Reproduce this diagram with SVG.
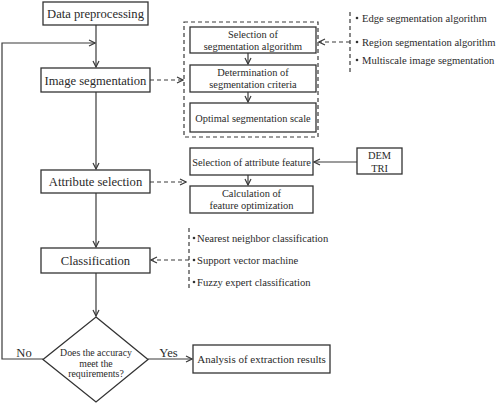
<svg xmlns="http://www.w3.org/2000/svg" width="498" height="404" viewBox="0 0 498 404" font-family="Liberation Serif, Times New Roman, serif">
<defs>
<style>
.box{fill:#fff;stroke:#333;stroke-width:1.3}
.ln{fill:none;stroke:#3a3a3a;stroke-width:1.2}
.dash{fill:none;stroke:#3a3a3a;stroke-width:1.2;stroke-dasharray:4 3}
text{fill:#2a2a2a;font-family:"Liberation Serif","Times New Roman",serif}
.m{font-size:12.6px;text-anchor:middle}
.s{font-size:10.4px;text-anchor:middle}
.b{font-size:10.6px}
.d{font-size:9.8px;text-anchor:middle}
.dot{fill:#333}
</style>
<marker id="ah" viewBox="0 0 8 8" refX="7" refY="4" markerWidth="8" markerHeight="8" markerUnits="userSpaceOnUse" orient="auto">
<path d="M1,1 L7,4 L1,7" fill="none" stroke="#3a3a3a" stroke-width="1.2"/>
</marker>
</defs>
<rect width="498" height="404" fill="#fff"/>
<g id="connectors">
<line class="ln" x1="96" y1="25" x2="96" y2="67" marker-end="url(#ah)"/>
<polyline class="ln" points="43,359 2,359 2,43 95,43" marker-end="url(#ah)"/>
<line class="dash" x1="150" y1="80" x2="183" y2="80" marker-end="url(#ah)"/>
<line class="ln" x1="248" y1="53" x2="248" y2="64" marker-end="url(#ah)"/>
<line class="ln" x1="248" y1="92" x2="248" y2="102" marker-end="url(#ah)"/>
<line class="dash" x1="350" y1="12" x2="350" y2="72"/>
<line class="dash" x1="350" y1="42" x2="319" y2="42" marker-end="url(#ah)"/>
<line class="ln" x1="96" y1="92" x2="96" y2="169" marker-end="url(#ah)"/>
<line class="dash" x1="150" y1="182" x2="186" y2="182" marker-end="url(#ah)"/>
<line class="ln" x1="248" y1="175" x2="248" y2="185" marker-end="url(#ah)"/>
<line class="ln" x1="357" y1="162" x2="314" y2="162" marker-end="url(#ah)"/>
<line class="ln" x1="96" y1="193" x2="96" y2="247" marker-end="url(#ah)"/>
<line class="dash" x1="189" y1="228" x2="189" y2="289"/>
<line class="dash" x1="189" y1="260" x2="151" y2="260" marker-end="url(#ah)"/>
<line class="ln" x1="96" y1="273" x2="96" y2="316" marker-end="url(#ah)"/>
<line class="ln" x1="148" y1="359" x2="192" y2="359" marker-end="url(#ah)"/>
</g>
<g id="data-preprocessing">
<rect class="box" x="43" y="2" width="105" height="23"/>
<text class="m" x="95.5" y="18">Data preprocessing</text>
</g>
<g id="image-segmentation">
<rect class="box" x="41" y="68" width="109" height="24"/>
<text class="m" x="95.5" y="84.5">Image segmentation</text>
</g>
<g id="segmentation-group">
<rect class="dash" x="184" y="22" width="134" height="115"/>
</g>
<g id="selection-seg-algorithm">
<rect class="box" x="190" y="27" width="126" height="26"/>
<text class="s" x="253" y="37.5">Selection of</text>
<text class="s" x="253" y="50">segmentation algorithm</text>
</g>
<g id="determination-criteria">
<rect class="box" x="190" y="65" width="126" height="27"/>
<text class="s" x="253" y="76">Determination of</text>
<text class="s" x="253" y="88">segmentation criteria</text>
</g>
<g id="optimal-scale">
<rect class="box" x="190" y="103" width="126" height="29"/>
<text class="s" x="253" y="121.5">Optimal segmentation scale</text>
</g>
<g id="seg-methods">
<circle class="dot" cx="357" cy="18" r="1.3"/>
<text class="b" x="362" y="21.5">Edge segmentation algorithm</text>
<circle class="dot" cx="357" cy="42" r="1.3"/>
<text class="b" x="362" y="45.5">Region segmentation algorithm</text>
<circle class="dot" cx="357" cy="60" r="1.3"/>
<text class="b" x="362" y="63.5">Multiscale image segmentation</text>
</g>
<g id="attribute-selection">
<rect class="box" x="41" y="170" width="109" height="23"/>
<text class="m" x="95.5" y="186">Attribute selection</text>
</g>
<g id="selection-attribute-feature">
<rect class="box" x="190" y="148" width="123" height="27"/>
<text class="s" x="251.5" y="165.5">Selection of attribute feature</text>
</g>
<g id="calculation-feature">
<rect class="box" x="190" y="186" width="123" height="27"/>
<text class="s" x="251.5" y="197">Calculation of</text>
<text class="s" x="251.5" y="209">feature optimization</text>
</g>
<g id="dem-tri">
<rect class="box" x="357" y="148" width="45" height="26"/>
<text class="s" x="379.5" y="159">DEM</text>
<text class="s" x="379.5" y="171.5">TRI</text>
</g>
<g id="classification">
<rect class="box" x="41" y="248" width="109" height="25"/>
<text class="m" x="95.5" y="265">Classification</text>
</g>
<g id="class-methods">
<circle class="dot" cx="194" cy="238" r="1.3"/>
<text class="b" x="197" y="241.5">Nearest neighbor classification</text>
<circle class="dot" cx="194" cy="260" r="1.3"/>
<text class="b" x="197" y="263.5">Support vector machine</text>
<circle class="dot" cx="194" cy="282" r="1.3"/>
<text class="b" x="197" y="285.5">Fuzzy expert classification</text>
</g>
<g id="accuracy-decision">
<polygon class="box" points="96,317 148,359.5 96,402 43,359.5"/>
<text class="d" x="96" y="356">Does the accuracy</text>
<text class="d" x="96" y="366.5">meet the</text>
<text class="d" x="96" y="377">requirements?</text>
</g>
<g id="analysis-results">
<rect class="box" x="193" y="345" width="137" height="28"/>
<text class="s" x="261.5" y="363" style="font-size:11px">Analysis of extraction results</text>
</g>
<g id="labels">
<text class="m" x="24" y="357">No</text>
<text class="m" x="168.5" y="357">Yes</text>
</g>
</svg>
